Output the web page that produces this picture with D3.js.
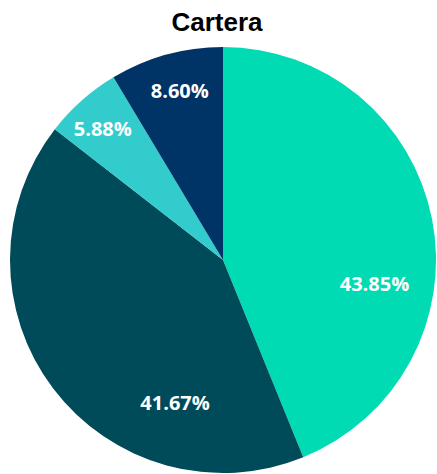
<!DOCTYPE html>
<html>
<head>
<meta charset="utf-8">
<script src="https://cdn.jsdelivr.net/npm/d3@7"></script>
<style>
  html, body { margin: 0; padding: 0; background: #fff; overflow: hidden; }
</style>
</head>
<body>
<svg id="chart" width="437" height="474"></svg>
<script>
// data
const categories = ["A", "B", "C", "D"];
const values = [43.85, 41.67, 5.88, 8.60];
const colors = ["#00DBB4", "#004B5A", "#33CCCC", "#003366"];

const width = 437, height = 474;
const cx = 223, cy = 260, radius = 213;

const svg = d3.select("#chart");

svg.append("text")
    .attr("x", cx - 6)
    .attr("y", 31)
    .attr("text-anchor", "middle")
    .style("font-family", "Liberation Sans, Arial, sans-serif")
    .style("font-weight", "bold")
    .style("font-size", "26px")
    .text("Cartera");

const pie = d3.pie().sort(null).value(d => d);
const arcs = pie(values);

const arc = d3.arc().innerRadius(0).outerRadius(radius);

const g = svg.append("g").attr("transform", `translate(${cx},${cy})`);

g.selectAll("path")
    .data(arcs)
    .enter()
    .append("path")
    .attr("d", arc)
    .attr("fill", (d, i) => colors[i]);

// label placement (angle shift in radians, distance as fraction of radius) - mimics Excel best fit
const labelPlace = [
    { shift: 0.35, k: 0.72 },
    { shift: -0.60, k: 0.71 },
    { shift: -0.017, k: 0.835 },
    { shift: 0.02, k: 0.82 }
];

g.selectAll("text.lbl")
    .data(arcs)
    .enter()
    .append("text")
    .attr("class", "lbl")
    .attr("transform", (d, i) => {
        const a = (d.startAngle + d.endAngle) / 2 + labelPlace[i].shift;
        const r = radius * labelPlace[i].k;
        return `translate(${r * Math.sin(a)},${-r * Math.cos(a)})`;
    })
    .attr("dy", "0.35em")
    .attr("text-anchor", "middle")
    .style("font-family", "Open Sans, sans-serif")
    .style("font-weight", "bold")
    .style("font-size", "20px")
    .style("fill", "#fff")
    .text(d => d.value.toFixed(2) + "%");
</script>
</body>
</html>
